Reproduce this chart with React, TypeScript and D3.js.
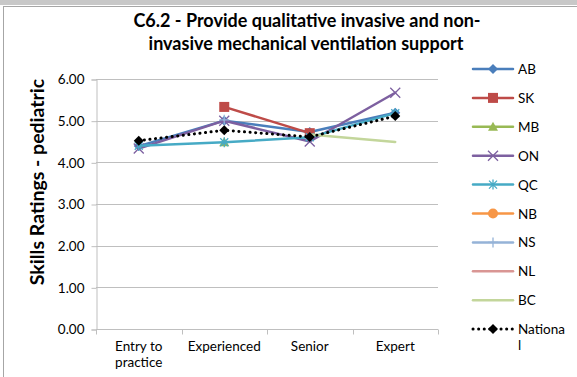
import React, { useEffect, useRef } from "react";
import * as d3 from "d3";

const categories = ["Entry to practice", "Experienced", "Senior", "Expert"];
const categoryLines = [["Entry to", "practice"], ["Experienced"], ["Senior"], ["Expert"]];
const yTicks = [0, 1, 2, 3, 4, 5, 6];

const ab = [4.39, 5.0, 4.73, 5.19];
const sk = [null, 5.33, 4.7, null];
const mb = [null, 4.48, null, null];
const on = [4.33, 5.0, 4.5, 5.67];
const qc = [4.4, 4.48, 4.6, 5.18];
const nb = [null, null, null, null];
const ns = [null, 5.02, null, null];
const nl = [null, null, null, null];
const bc = [null, null, 4.67, 4.49];
const national = [4.52, 4.77, 4.61, 5.11];

type Val = number | null;
interface Series {
  name: string;
  values: Val[];
  color: string;
  marker: string;
  dotted?: boolean;
}

const series: Series[] = [
  { name: "AB", values: ab, color: "#4A7EBB", marker: "diamond" },
  { name: "SK", values: sk, color: "#BE4B48", marker: "square" },
  { name: "MB", values: mb, color: "#98B954", marker: "triangle" },
  { name: "ON", values: on, color: "#7D60A0", marker: "x" },
  { name: "QC", values: qc, color: "#46AAC5", marker: "asterisk" },
  { name: "NB", values: nb, color: "#F79646", marker: "circle" },
  { name: "NS", values: ns, color: "#95B3D7", marker: "plus" },
  { name: "NL", values: nl, color: "#D99694", marker: "none" },
  { name: "BC", values: bc, color: "#C3D69B", marker: "none" },
  { name: "National", values: national, color: "#000000", marker: "diamond", dotted: true },
];

function drawMarker(g: any, kind: string, x: number, y: number, color: string) {
  if (kind === "diamond") {
    g.append("path")
      .attr("d", `M${x},${y - 5}L${x + 5},${y}L${x},${y + 5}L${x - 5},${y}Z`)
      .attr("fill", color);
  } else if (kind === "square") {
    g.append("rect").attr("x", x - 5).attr("y", y - 5).attr("width", 10).attr("height", 10).attr("fill", color);
  } else if (kind === "triangle") {
    g.append("path").attr("d", `M${x},${y - 5}L${x + 5},${y + 4}L${x - 5},${y + 4}Z`).attr("fill", color);
  } else if (kind === "circle") {
    g.append("circle").attr("cx", x).attr("cy", y).attr("r", 5).attr("fill", color);
  } else if (kind === "x") {
    g.append("path")
      .attr("d", `M${x - 5},${y - 5}L${x + 5},${y + 5}M${x - 5},${y + 5}L${x + 5},${y - 5}`)
      .attr("stroke", color).attr("stroke-width", 1.3);
  } else if (kind === "asterisk") {
    g.append("path")
      .attr("d", `M${x - 4},${y - 4}L${x + 4},${y + 4}M${x - 4},${y + 4}L${x + 4},${y - 4}M${x},${y - 5}L${x},${y + 5}`)
      .attr("stroke", color).attr("stroke-width", 1.3);
  } else if (kind === "plus") {
    g.append("path")
      .attr("d", `M${x - 5},${y}L${x + 5},${y}M${x},${y - 5}L${x},${y + 5}`)
      .attr("stroke", color).attr("stroke-width", 1.3);
  }
}

export default function App() {
  const svgRef = useRef<SVGSVGElement>(null);

  useEffect(() => {
    const width = 577;
    const height = 377;
    const svg = d3.select(svgRef.current).attr("width", width).attr("height", height);
    svg.selectAll("*").remove();

    const font = "Lato, 'Open Sans', sans-serif";

    // background and frame
    svg.append("rect").attr("width", width).attr("height", height).attr("fill", "#fff");
    svg.append("rect").attr("width", width).attr("height", 5).attr("fill", "#C8C8C8");
    svg.append("rect").attr("x", 3.5).attr("y", 6.5).attr("width", 600).attr("height", 400)
      .attr("fill", "none").attr("stroke", "#A6A6A6");

    // title
    const title = svg.append("text").attr("text-anchor", "middle").attr("font-family", font)
      .attr("font-weight", "bold").attr("font-size", 18).attr("fill", "#000");
    title.append("tspan").attr("x", 307).attr("y", 27).text("C6.2 - Provide qualitative invasive and non-");
    title.append("tspan").attr("x", 306).attr("y", 50).text("invasive mechanical ventilation support");

    const x = d3.scaleBand().domain(categories).range([96, 438]);
    const y = d3.scaleLinear().domain([0, 6]).range([329, 79]);

    // gridlines
    svg.append("g").selectAll("line").data(yTicks.slice(1)).join("line")
      .attr("x1", 96).attr("x2", 438)
      .attr("y1", (d) => Math.round(y(d)) + 0.5).attr("y2", (d) => Math.round(y(d)) + 0.5)
      .attr("stroke", "#BFBFBF");

    // y axis
    const yAxis = svg.append("g").attr("transform", "translate(96.5,0.5)")
      .call(d3.axisLeft(y).tickValues(yTicks).tickFormat(d3.format(".2f")).tickSizeOuter(0).tickSize(5));
    yAxis.select(".domain").attr("stroke", "#BFBFBF");
    yAxis.selectAll(".tick line").attr("stroke", "#BFBFBF");
    yAxis.selectAll(".tick text").attr("font-family", font).attr("font-size", 13.5).attr("fill", "#000").attr("x", -12);

    // x axis
    const xAxisY = Math.round(y(0)) + 0.5;
    svg.append("line").attr("x1", 96).attr("x2", 438).attr("y1", xAxisY).attr("y2", xAxisY).attr("stroke", "#BFBFBF");
    const bounds = categories.map((c) => x(c) as number).concat([438]);
    svg.append("g").selectAll("line").data(bounds).join("line")
      .attr("x1", (d) => Math.round(d) + 0.5).attr("x2", (d) => Math.round(d) + 0.5)
      .attr("y1", xAxisY).attr("y2", xAxisY + 5).attr("stroke", "#BFBFBF");
    categories.forEach((c, i) => {
      const t = svg.append("text").attr("text-anchor", "middle").attr("font-family", font)
        .attr("font-size", 13.5).attr("fill", "#000");
      categoryLines[i].forEach((ln, j) => {
        t.append("tspan").attr("x", (x(c) as number) + x.bandwidth() / 2).attr("y", 351 + j * 16).text(ln);
      });
    });

    // y axis title
    svg.append("text").attr("transform", "translate(44,182) rotate(-90)").attr("text-anchor", "middle")
      .attr("font-family", font).attr("font-weight", "bold").attr("font-size", 19.5).attr("fill", "#000")
      .text("Skills Ratings - pediatric");

    // series
    const cx = (i: number) => (x(categories[i]) as number) + x.bandwidth() / 2;
    const line = d3.line<Val>()
      .defined((d) => d !== null)
      .x((_, i) => cx(i))
      .y((d) => y(d as number));

    series.forEach((s) => {
      const g = svg.append("g");
      g.append("path").attr("d", line(s.values)).attr("fill", "none").attr("stroke", s.color)
        .attr("stroke-width", s.dotted ? 3 : 2.5)
        .attr("stroke-linecap", "round").attr("stroke-linejoin", "round")
        .attr("stroke-dasharray", s.dotted ? "0.1 5.5" : null);
      s.values.forEach((v, i) => {
        if (v !== null) drawMarker(g, s.marker, cx(i), y(v), s.color);
      });
    });

    // legend
    const lg = svg.append("g");
    series.forEach((s, i) => {
      const ly = 69 + i * 28.9;
      lg.append("line").attr("x1", 473).attr("x2", 513).attr("y1", ly).attr("y2", ly)
        .attr("stroke", s.color).attr("stroke-width", s.dotted ? 3 : 2.5)
        .attr("stroke-linecap", "round").attr("stroke-dasharray", s.dotted ? "0.1 5.5" : null);
      drawMarker(lg, s.marker, 493, ly, s.color);
      const t = lg.append("text").attr("font-family", font).attr("font-size", 13.5).attr("fill", "#000");
      if (s.name === "National") {
        t.append("tspan").attr("x", 518).attr("y", ly + 5).text("Nationa");
        t.append("tspan").attr("x", 518).attr("y", ly + 21).text("l");
      } else {
        t.append("tspan").attr("x", 518).attr("y", ly + 5).text(s.name);
      }
    });
  }, []);

  return (
    <div style={{ position: "fixed", left: 0, top: 0 }}>
      <svg ref={svgRef}></svg>
    </div>
  );
}
